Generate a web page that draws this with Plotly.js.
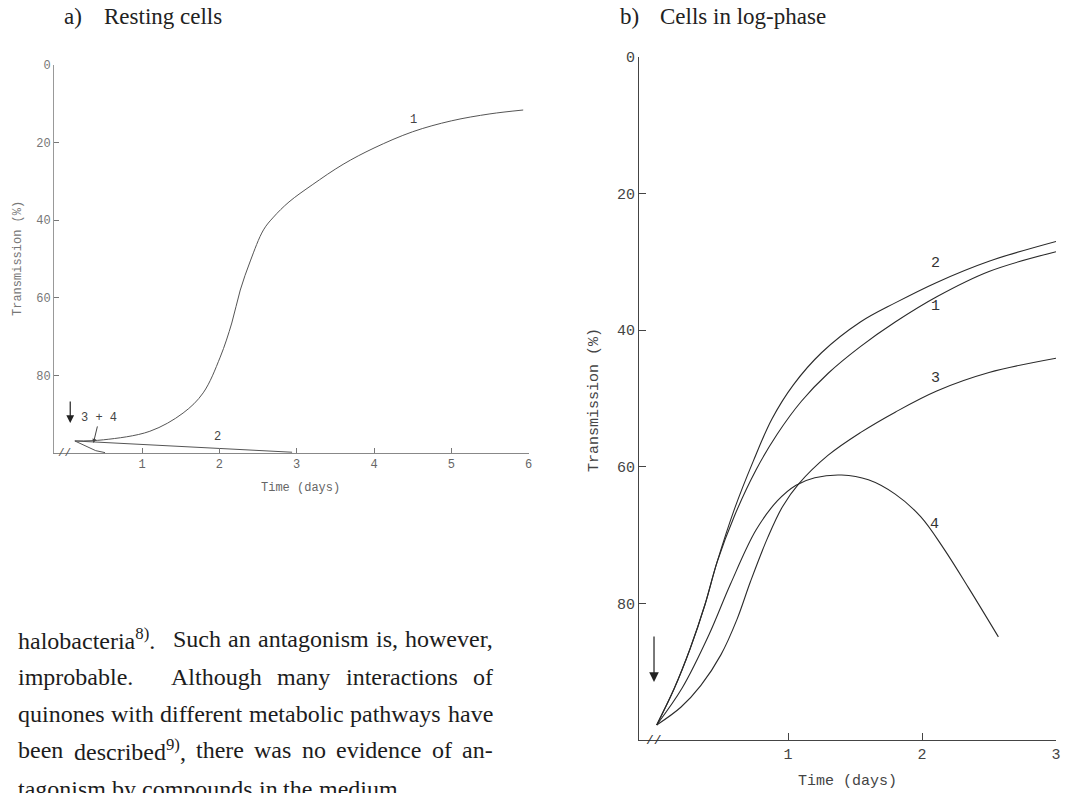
<!DOCTYPE html>
<html><head><meta charset="utf-8">
<script src="https://cdn.plot.ly/plotly-3.0.1.min.js"></script>
<style>html,body{margin:0;padding:0;background:#fff}</style>
</head><body><div id="chart" style="width:1087px;height:793px"></div>
<script>
// ---------- Panel a) Resting cells ----------
const aXTicks = [1, 2, 3, 4, 5, 6];
const aYTicks = [0, 20, 40, 60, 80];
const aTime1 = [0.13, 0.5, 1.1, 1.53, 1.79, 2.01, 2.16, 2.27, 2.40, 2.57, 2.7, 2.9, 3.2, 3.6, 4.0, 4.5, 5.0, 5.5, 5.93];
const aTrans1 = [96.9, 96.6, 94.4, 89.7, 84.5, 75.3, 66.5, 58.0, 50.5, 42.5, 39.2, 35.3, 30.9, 25.6, 21.4, 17.2, 14.4, 12.6, 11.6];
const aTime2 = [0.13, 2.94];
const aTrans2 = [96.9, 99.8];
const aTime34 = [0.13, 0.40, 0.52];
const aTrans34 = [96.9, 99.4, 99.9];

// ---------- Panel b) Cells in log-phase ----------
const bXTicks = [1, 2, 3];
const bYTicks = [0, 20, 40, 60, 80];
const bTime1 = [0.02, 0.15, 0.27, 0.38, 0.47, 0.6, 0.76, 0.92, 1.1, 1.3, 1.54, 1.8, 2.11, 2.5, 3.0];
const bTrans1 = [97.8, 92.5, 86.6, 80.2, 74.0, 67.2, 60.5, 55.2, 50.4, 46.3, 42.4, 38.8, 35.1, 31.4, 28.5];
const bTime2 = [0.02, 0.15, 0.27, 0.38, 0.47, 0.6, 0.74, 0.88, 1.04, 1.25, 1.54, 1.8, 2.11, 2.5, 3.0];
const bTrans2 = [97.8, 92.5, 86.6, 80.2, 74.0, 66.2, 59.2, 53.0, 48.0, 43.3, 38.8, 36.0, 33.0, 29.9, 27.0];
const bTime3 = [0.02, 0.2, 0.35, 0.5, 0.62, 0.72, 0.85, 0.96, 1.08, 1.3, 1.54, 1.8, 2.11, 2.5, 3.0];
const bTrans3 = [97.8, 95.2, 92.0, 87.5, 82.3, 76.8, 70.3, 65.8, 62.5, 58.3, 55.0, 52.0, 48.9, 46.2, 44.1];
const bTime4 = [0.02, 0.21, 0.41, 0.57, 0.76, 0.92, 1.06, 1.2, 1.40, 1.6, 1.8, 1.99, 2.16, 2.35, 2.57];
const bTrans4 = [97.8, 92.4, 84.6, 77.2, 69.3, 65.0, 62.7, 61.6, 61.2, 61.9, 64.0, 67.3, 71.9, 77.8, 84.9];

// curve labels
const aLabels = ["1", "2"];
const aLabelX = [4.51, 1.97];
const aLabelY = [14.2, 95.9];
const bLabels = ["2", "1", "3", "4"];
const bLabelX = [2.10, 2.10, 2.10, 2.09];
const bLabelY = [30.2, 36.6, 47.1, 68.5];

// texts
const panelATitle = ["a)", "Resting cells"];
const panelBTitle = ["b)", "Cells in log-phase"];
const xTitle = "Time (days)";
const yTitle = "Transmission (%)";
const bodyLines = [
  ["halobacteria<sup>8)</sup>.", "Such", "an", "antagonism", "is,", "however,"],
  ["improbable.", "Although", "many", "interactions", "of"],
  ["quinones", "with", "different", "metabolic", "pathways", "have"],
  ["been", "described<sup>9)</sup>,", "there", "was", "no", "evidence", "of", "an-"],
  ["tagonism", "by", "compounds", "in", "the", "medium."]
];

const W = 1087, H = 793;
const px = v => v / W, py = v => 1 - v / H;
const mono = "Liberation Mono, DejaVu Sans Mono, monospace";
const serif = "Liberation Serif, Times New Roman, serif";
const colA = "#555", colB = "#2a2a2a";

function line(x, y, xa, ya, color, w, shape) {
  return {x, y, xaxis: xa, yaxis: ya, type: "scatter", mode: "lines",
    line: {color, width: w, shape: shape || "spline", smoothing: 1}, hoverinfo: "skip"};
}
const data = [
  line(aTime1, aTrans1, "x", "y", colA, 1),
  line(aTime2, aTrans2, "x", "y", colA, 1, "linear"),
  line(aTime34, aTrans34, "x", "y", colA, 1, "linear"),
  line(bTime1, bTrans1, "x2", "y2", colB, 1.1),
  line(bTime2, bTrans2, "x2", "y2", colB, 1.1),
  line(bTime3, bTrans3, "x2", "y2", colB, 1.1),
  line(bTime4, bTrans4, "x2", "y2", colB, 1.1)
];

function axis(o) {
  return Object.assign({showgrid: false, zeroline: false, showline: true, ticks: "inside",
    fixedrange: true}, o);
}
const layout = {
  width: W, height: H, margin: {l: 0, r: 0, t: 0, b: 0},
  paper_bgcolor: "#fff", plot_bgcolor: "rgba(0,0,0,0)", showlegend: false,
  xaxis: axis({domain: [px(54), px(528.6)], range: [-0.14, 6.0], anchor: "y",
    tickvals: aXTicks, ticklen: 5, tickcolor: "#777", linecolor: "#888", linewidth: 1,
    tickfont: {family: mono, size: 12, color: "#666"}}),
  yaxis: axis({domain: [py(453), py(65)], range: [100, 0], anchor: "x",
    tickvals: aYTicks, ticklen: 5, tickcolor: "#777", linecolor: "#999", linewidth: 1,
    tickfont: {family: mono, size: 12, color: "#777"}}),
  xaxis2: axis({domain: [px(639), px(1056)], range: [-0.112, 3.0], anchor: "y2",
    tickvals: bXTicks, ticklen: 7, tickcolor: "#444", linecolor: "#444", linewidth: 1,
    tickfont: {family: mono, size: 15, color: "#444"}}),
  yaxis2: axis({domain: [py(740), py(57)], range: [100, 0], anchor: "x2",
    tickvals: bYTicks, ticklen: 7, tickcolor: "#444", linecolor: "#444", linewidth: 1,
    tickfont: {family: mono, size: 15, color: "#444"}}),
  annotations: [], shapes: []
};
const ann = layout.annotations;
function txt(text, x, y, size, color, family, extra) {
  ann.push(Object.assign({text, x: px(x), y: py(y), xref: "paper", yref: "paper", showarrow: false,
    font: {size, color, family}, xanchor: "center", yanchor: "middle"}, extra || {}));
}
// panel titles
txt(panelATitle[0], 62, 16, 23, "#222", serif, {xanchor: "left"});
txt(panelATitle[1], 102, 16, 23, "#222", serif, {xanchor: "left"});
txt(panelBTitle[0], 618, 16, 23, "#222", serif, {xanchor: "left"});
txt(panelBTitle[1], 658, 16, 23, "#222", serif, {xanchor: "left"});
// axis titles
txt(xTitle, 300, 488, 12, "#666", mono);
txt(yTitle, 18, 259, 12, "#777", mono, {textangle: -90});
txt(xTitle, 847, 781, 15, "#444", mono);
txt(yTitle, 594, 400, 15, "#444", mono, {textangle: -90});

// curve labels
aLabels.forEach((t, i) => ann.push({text: t, x: aLabelX[i], y: aLabelY[i], xref: "x", yref: "y",
  showarrow: false, font: {family: mono, size: 12, color: "#444"}}));
bLabels.forEach((t, i) => ann.push({text: t, x: bLabelX[i], y: bLabelY[i], xref: "x2", yref: "y2",
  showarrow: false, font: {family: mono, size: 15, color: "#333"}}));

// axis break marks
ann.push({text: "//", x: 0, y: 100, xref: "x", yref: "y", showarrow: false,
  font: {family: mono, size: 11, color: "#555"}});
ann.push({text: "//", x: 0, y: 100, xref: "x2", yref: "y2", showarrow: false,
  font: {family: mono, size: 13, color: "#333"}});

// arrows (time of addition)
ann.push({text: "", x: 0.07, y: 92.3, xref: "x", yref: "y", showarrow: true, ax: 0, ay: -23,
  arrowhead: 2, arrowsize: 1.3, arrowwidth: 1.2, arrowcolor: "#222"});
ann.push({text: "", x: 0, y: 91.5, xref: "x2", yref: "y2", showarrow: true, ax: 0, ay: -47,
  arrowhead: 2, arrowsize: 1.6, arrowwidth: 1.2, arrowcolor: "#222"});
// "3 + 4" pointer
ann.push({text: "3 + 4", x: 0.37, y: 97.4, xref: "x", yref: "y", showarrow: true, ax: 6, ay: -25,
  arrowhead: 2, arrowsize: 0.8, arrowwidth: 1, arrowcolor: "#444",
  font: {family: mono, size: 12, color: "#444"}});

// body text, justified by measuring words
const cv = document.createElement("canvas").getContext("2d");
const FS = 24;
function measure(word) {
  let w = 0;
  const parts = word.split(/(<sup>.*?<\/sup>)/);
  parts.forEach(p => {
    if (!p) return;
    const m = p.match(/^<sup>(.*)<\/sup>$/);
    if (m) { cv.font = (FS * 0.7) + 'px "Liberation Serif"'; w += cv.measureText(m[1]).width; }
    else { cv.font = FS + 'px "Liberation Serif"'; w += cv.measureText(p).width; }
  });
  return w;
}
const left = 17, right = 492;
const baselines = [647, 685, 722, 758, 797];
cv.font = FS + 'px "Liberation Serif"';
const spaceW = cv.measureText(" ").width;
bodyLines.forEach((words, li) => {
  const widths = words.map(measure);
  const sum = widths.reduce((a, b) => a + b, 0);
  const justify = li < bodyLines.length - 1;
  const weights = words.slice(0, -1).map(w => /\.$/.test(w) ? 2.5 : 1);
  const wsum = weights.reduce((a, b) => a + b, 0);
  const unit = justify ? (right - left - sum) / wsum : spaceW;
  let x = left;
  words.forEach((w, i) => {
    ann.push({text: w, x: px(x), y: py(baselines[li] - 8), xref: "paper", yref: "paper",
      xanchor: "left", yanchor: "middle", showarrow: false, borderpad: 0,
      font: {family: serif, size: FS, color: "#1c1c1c"}});
    x += widths[i] + (i < weights.length ? (justify ? unit * weights[i] : spaceW) : 0);
  });
});

Plotly.newPlot("chart", data, layout, {staticPlot: true, displayModeBar: false});
</script></body></html>
